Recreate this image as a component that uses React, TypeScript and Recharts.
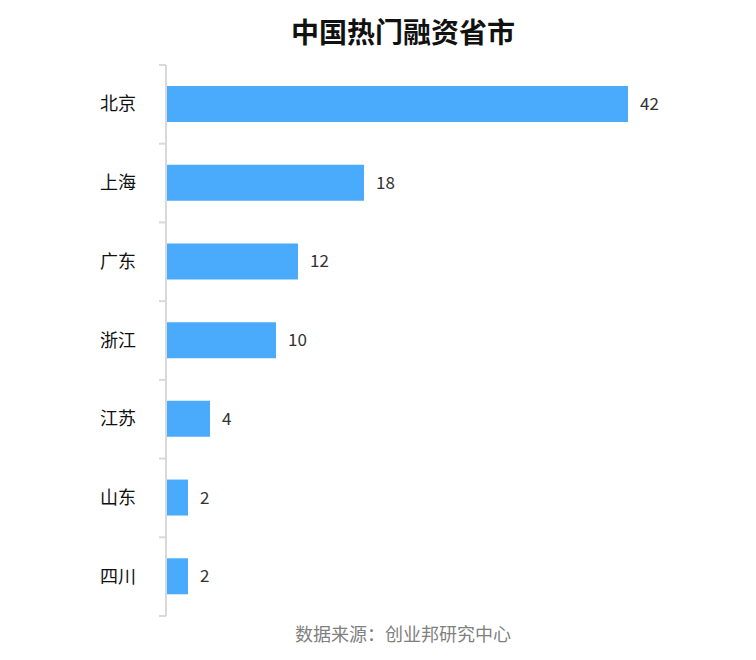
import React from "react";
import { BarChart, Bar, XAxis, YAxis, LabelList } from "recharts";

const categories = ["北京", "上海", "广东", "浙江", "江苏", "山东", "四川"];
const values = [42, 18, 12, 10, 4, 2, 2];
const title = "中国热门融资省市";
const source = "数据来源：创业邦研究中心";

const data = categories.map((name, i) => ({ name, value: values[i] }));

const FONT = '"Noto Sans CJK SC", "Noto Sans", sans-serif';
const AXIS_COLOR = "#d9d9d9";

const CategoryTick = (props: any) => {
  const { x, y, payload, index, visibleTicksCount } = props;
  const half = payload && payload.offset ? payload.offset : 39.4;
  const last = index === (visibleTicksCount ?? categories.length) - 1;
  const ax = x + 8;
  return (
    <g>
      <line x1={ax - 7} x2={ax} y1={y - half} y2={y - half} stroke={AXIS_COLOR} strokeWidth={2} />
      {last && (
        <line x1={ax - 7} x2={ax} y1={y + half} y2={y + half} stroke={AXIS_COLOR} strokeWidth={2} />
      )}
      <text x={ax - 30} y={y} dy={6} textAnchor="end" fill="#111" fontSize={18} fontFamily={FONT}>
        {payload.value}
      </text>
    </g>
  );
};

export default function App() {
  return (
    <div style={{ position: "relative", width: 740, height: 652, background: "#fff", fontFamily: FONT }}>
      <div
        style={{
          position: "absolute",
          top: 5,
          left: 0,
          width: 790,
          textAlign: "center",
          fontSize: 28,
          fontWeight: 700,
          color: "#111",
          lineHeight: "36px",
        }}
      >
        {title}
      </div>
      <BarChart
        width={740}
        height={652}
        data={data}
        layout="vertical"
        margin={{ top: 57, right: 87, bottom: 44, left: 0 }}
      >
        <XAxis type="number" domain={[0, 45]} hide />
        <YAxis
          type="category"
          dataKey="name"
          width={158}
          axisLine={{ stroke: AXIS_COLOR, strokeWidth: 2 }}
          tickLine={false}
          tick={<CategoryTick />}
          interval={0}
        />
        <Bar dataKey="value" fill="#4aabfc" barSize={36} isAnimationActive={false}>
          <LabelList
            dataKey="value"
            position="right"
            offset={12}
            fill="#333"
            fontSize={17}
            fontFamily={FONT}
          />
        </Bar>
      </BarChart>
      <div
        style={{
          position: "absolute",
          top: 613,
          left: 0,
          width: 790,
          textAlign: "center",
          fontSize: 18,
          color: "#808080",
          lineHeight: "24px",
        }}
      >
        {source}
      </div>
    </div>
  );
}
